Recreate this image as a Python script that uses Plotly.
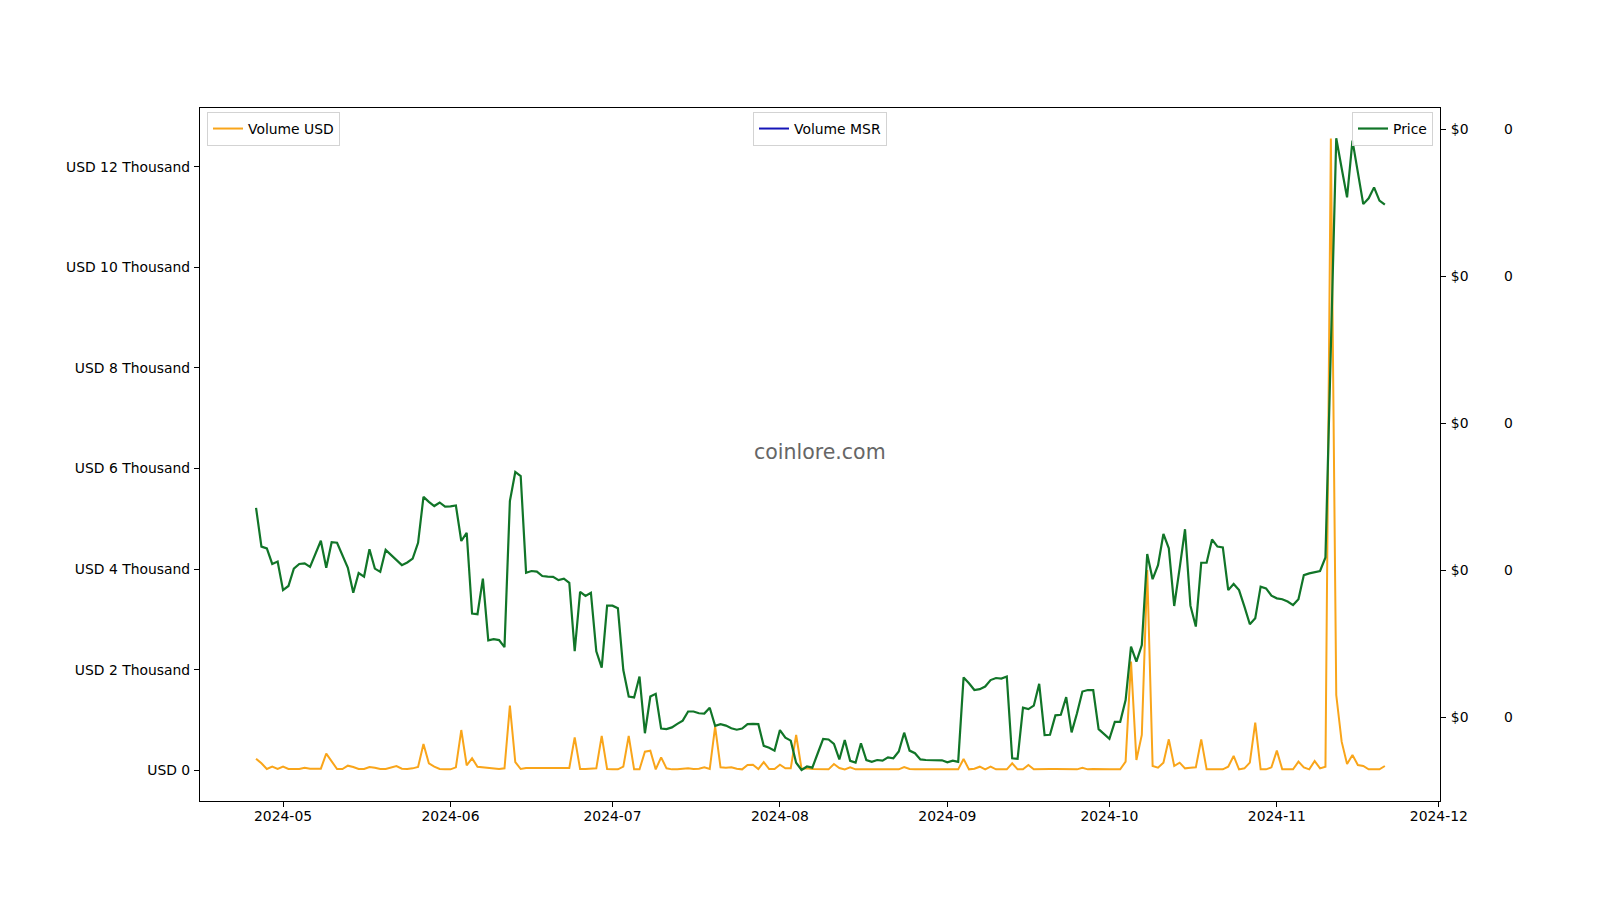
import pandas as pd
import plotly.graph_objects as go

# ---------------- data (daily, 2024-04-26 .. 2024-11-21) ----------------
start_date = "2024-04-26"

# Price (in units of 1e-7 USD; every tick renders as "$0")
price = [
    # Apr 26-30
    17.13, 15.81, 15.75, 15.22, 15.30,
    # May
    14.33, 14.47, 15.06, 15.22, 15.24, 15.12, 15.57, 16.01, 15.09, 15.96,
    15.94, 15.50, 15.09, 14.24, 14.91, 14.79, 15.72, 15.06, 14.95, 15.70,
    15.52, 15.35, 15.18, 15.27, 15.40, 15.94, 17.50, 17.33, 17.19, 17.31, 17.17,
    # Jun
    17.18, 17.21, 16.00, 16.28, 13.53, 13.51, 14.72, 12.62, 12.66, 12.63,
    12.39, 17.36, 18.35, 18.21, 14.92, 14.98, 14.96, 14.81, 14.79, 14.78,
    14.67, 14.72, 14.58, 12.25, 14.27, 14.13, 14.24, 12.25, 11.69, 13.80,
    # Jul
    13.80, 13.71, 11.61, 10.71, 10.68, 11.39, 9.46, 10.71, 10.80, 9.62,
    9.60, 9.66, 9.78, 9.89, 10.20, 10.20, 10.14, 10.13, 10.33, 9.71,
    9.77, 9.72, 9.63, 9.58, 9.62, 9.77, 9.78, 9.77, 9.03, 8.97, 8.87,
    # Aug
    9.57, 9.31, 9.21, 8.46, 8.21, 8.33, 8.29, 8.78, 9.27, 9.25,
    9.10, 8.57, 9.23, 8.52, 8.46, 9.12, 8.55, 8.49, 8.55, 8.53,
    8.64, 8.61, 8.84, 9.48, 8.87, 8.78, 8.57, 8.55, 8.55, 8.55, 8.54,
    # Sep
    8.47, 8.53, 8.49, 11.36, 11.16, 10.93, 10.96, 11.05, 11.27, 11.34,
    11.32, 11.39, 8.61, 8.59, 10.33, 10.28, 10.40, 11.14, 9.40, 9.41,
    10.07, 10.09, 10.69, 9.49, 10.14, 10.88, 10.93, 10.93, 9.60, 9.44,
    # Oct
    9.27, 9.85, 9.85, 10.59, 12.41, 11.90, 12.46, 15.56, 14.70, 15.18,
    16.24, 15.75, 13.79, 15.07, 16.40, 13.80, 13.09, 15.26, 15.26, 16.05,
    15.81, 15.78, 14.33, 14.54, 14.33, 13.77, 13.17, 13.37, 14.45, 14.39, 14.14,
    # Nov 1-21
    14.05, 14.02, 13.94, 13.82, 14.02, 14.84, 14.90, 14.93, 14.98, 15.44,
    22.60, 29.70, 28.68, 27.69, 29.62, 28.51, 27.46, 27.66, 28.03, 27.58, 27.44,
]

# Volume in USD
volume_usd = [
    # Apr 26-30
    232, 139, 26, 72, 26,
    # May
    72, 26, 26, 26, 52, 32, 32, 32, 331, 172,
    26, 26, 92, 66, 26, 26, 66, 52, 26, 26,
    52, 86, 32, 26, 39, 66, 523, 139, 72, 26, 19,
    # Jun
    19, 59, 801, 99, 238, 72, 59, 52, 39, 26,
    39, 1286, 165, 26, 46, 46, 46, 46, 46, 46,
    46, 46, 46, 656, 26, 26, 26, 39, 683, 26,
    # Jul
    19, 19, 72, 683, 19, 19, 371, 391, 19, 258,
    39, 19, 19, 26, 39, 26, 32, 59, 26, 867,
    59, 52, 59, 32, 19, 106, 112, 26, 165, 26, 26,
    # Aug
    112, 39, 39, 702, 26, 39, 26, 19, 19, 19,
    125, 46, 19, 59, 19, 19, 19, 19, 19, 19,
    19, 19, 19, 66, 26, 19, 19, 19, 19, 19, 19,
    # Sep
    19, 19, 19, 225, 19, 32, 72, 19, 72, 19,
    19, 19, 139, 19, 19, 106, 19, 26, 26, 26,
    26, 26, 32, 19, 19, 52, 19, 26, 19, 19,
    # Oct
    19, 19, 19, 172, 2160, 205, 702, 3980, 86, 52,
    152, 616, 86, 152, 39, 52, 59, 616, 19, 19,
    19, 19, 72, 285, 19, 39, 152, 947, 19, 19, 59,
    # Nov 1-21
    391, 19, 19, 19, 172, 59, 19, 185, 39, 72,
    12560, 1497, 570, 126, 305, 106, 86, 19, 19, 19, 86,
]

# Volume in MSR: no values are drawn in the reference (legend entry only)
volume_msr = [None] * len(price)

left_tickvals = [0, 2000, 4000, 6000, 8000, 10000, 12000]
left_ticktext = ["USD 0", "USD 2 Thousand", "USD 4 Thousand", "USD 6 Thousand",
                 "USD 8 Thousand", "USD 10 Thousand", "USD 12 Thousand"]
price_tickvals = [10, 15, 20, 25, 30]
price_ticktext = ["$0", "$0", "$0", "$0", "$0"]
msr_ticktext = ["0", "0", "0", "0", "0"]

dates = pd.date_range(start_date, periods=len(price), freq="D")

# ---------------- figure ----------------
FONT = "DejaVu Sans, Verdana, sans-serif"
FS = 13.9
ORANGE = "#f9a51a"
GREEN = "#117528"
BLUE = "#1515b8"

fig = go.Figure()
fig.add_trace(go.Scatter(x=dates, y=volume_usd, mode="lines", name="Volume USD",
                         line=dict(color=ORANGE, width=2.0), yaxis="y", legend="legend"))
fig.add_trace(go.Scatter(x=dates, y=volume_msr, mode="lines", name="Volume MSR",
                         line=dict(color=BLUE, width=2), yaxis="y3", legend="legend2"))
fig.add_trace(go.Scatter(x=dates, y=price, mode="lines", name="Price",
                         line=dict(color=GREEN, width=2.2), yaxis="y2", legend="legend3"))

W_PLOT = 1340.0  # plotting-area width in px
H_PLOT = 693.0
x_end = 1240.0 / W_PLOT

legend_common = dict(bgcolor="rgba(255,255,255,0.85)", bordercolor="#d3d3d3",
                     borderwidth=1, font=dict(family=FONT, size=FS, color="black"),
                     yanchor="top", y=(801 - 112) / H_PLOT)

fig.update_layout(
    width=1592, height=892,
    margin=dict(l=192, r=60, t=100, b=99, autoexpand=False),
    paper_bgcolor="white", plot_bgcolor="white",
    font=dict(family=FONT, size=FS, color="black"),
    showlegend=True,
    legend=dict(x=7 / W_PLOT, xanchor="left", **legend_common),
    legend2=dict(x=620 / W_PLOT, xanchor="center", **legend_common),
    legend3=dict(x=1233 / W_PLOT, xanchor="right", **legend_common),
    xaxis=dict(
        domain=[0, x_end],
        type="date",
        range=["2024-04-15 15:00", "2024-12-01 05:00"],
        tickformat="%Y-%m", dtick="M1", tick0="2024-01-01",
        ticks="outside", ticklen=5, tickcolor="black", tickwidth=1,
        ticklabelstandoff=-3,
        showline=True, linecolor="black", linewidth=1.1, mirror=True,
        showgrid=False, zeroline=False,
        tickfont=dict(family=FONT, size=FS, color="black"),
    ),
    yaxis=dict(
        range=[-610, 13167],
        tickvals=left_tickvals, ticktext=left_ticktext,
        ticks="outside", ticklen=5, tickcolor="black", tickwidth=1,
        ticklabelstandoff=1,
        showline=True, linecolor="black", linewidth=1.1,
        showgrid=False, zeroline=False,
        tickfont=dict(family=FONT, size=FS, color="black"),
    ),
    yaxis2=dict(
        overlaying="y", side="right", anchor="x",
        range=[7.156, 30.73],
        tickvals=price_tickvals, ticktext=price_ticktext,
        ticks="outside", ticklen=5, tickcolor="black", tickwidth=1,
        ticklabelstandoff=2,
        showline=True, linecolor="black", linewidth=1.1,
        showgrid=False, zeroline=False,
        tickfont=dict(family=FONT, size=FS, color="black"),
    ),
    yaxis3=dict(
        overlaying="y", side="right", anchor="free", position=1303 / W_PLOT,
        range=[7.156, 30.73],
        tickvals=price_tickvals, ticktext=msr_ticktext,
        ticks="", showline=False, showgrid=False, zeroline=False,
        tickfont=dict(family=FONT, size=FS, color="black"),
    ),
    annotations=[dict(
        text="coinlore.com", xref="x domain", yref="y domain", x=0.5, y=0.503,
        showarrow=False, font=dict(family=FONT, size=20.5, color="#666666"),
        xanchor="center", yanchor="middle",
    )],
)

fig.write_html("out.html")
